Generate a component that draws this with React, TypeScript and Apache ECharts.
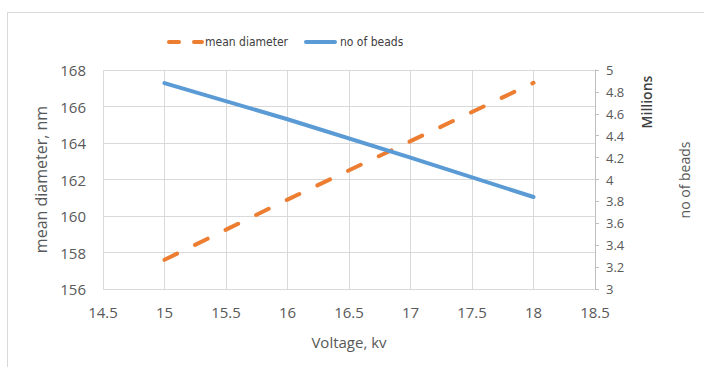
import React, { useEffect, useRef } from "react";
import * as echarts from "echarts";

// Voltage (kV) sweep
const voltage = [15, 16, 17, 18];
// Mean fibre diameter, nm
const meanDiameter = [157.6, 160.9, 164.1, 167.3];
// Number of beads, millions
const noOfBeads = [4.88, 4.55, 4.2, 3.84];

const FONT = "'Open Sans', 'Liberation Sans', sans-serif";
const NARROW = "'Liberation Sans Narrow', 'DejaVu Sans Condensed', 'Open Sans', sans-serif";
const TEXT = "#595959";
const ORANGE = "#ED7D31";
const BLUE = "#5B9BD5";
const GRID = "#d9d9d9";

// Legend keys: a two-dash stroke and a solid stroke
const DASH_ICON = "path://M2,0 h10 a2,2 0 0 1 0,4 h-10 a2,2 0 0 1 0,-4z M27,0 h8 a2,2 0 0 1 0,4 h-8 a2,2 0 0 1 0,-4z";
const SOLID_ICON = "path://M2,0 h29 a2,2 0 0 1 0,4 h-29 a2,2 0 0 1 0,-4z";

export default function App() {
  const ref = useRef<HTMLDivElement>(null);

  useEffect(() => {
    if (!ref.current) return;
    const chart = echarts.init(ref.current, undefined, { renderer: "svg" });
    chart.setOption({
      animation: false,
      backgroundColor: "#ffffff",
      textStyle: { fontFamily: FONT },
      legend: {
        top: 31,
        left: 162,
        itemWidth: 37,
        itemHeight: 4,
        itemGap: 16,
        textStyle: { color: "#404040", fontSize: 12, fontFamily: NARROW, padding: [0, 0, 0, -4] },
        data: [
          { name: "mean diameter", icon: DASH_ICON },
          { name: "no of beads", icon: SOLID_ICON, itemWidth: 33 },
        ],
      },
      grid: { left: 103, right: 109, top: 70, bottom: 78 },
      xAxis: {
        type: "value",
        min: 14.5,
        max: 18.5,
        interval: 0.5,
        name: "Voltage, kv",
        nameLocation: "middle",
        nameGap: 45,
        nameTextStyle: { color: TEXT, fontSize: 15, fontFamily: FONT },
        axisLine: { show: false },
        axisTick: { show: false },
        axisLabel: { color: TEXT, fontSize: 15, margin: 15, fontFamily: FONT },
        splitLine: { show: true, lineStyle: { color: GRID, width: 1 } },
      },
      yAxis: [
        {
          type: "value",
          min: 156,
          max: 168,
          interval: 2,
          name: "mean diameter, nm",
          nameLocation: "middle",
          nameRotate: 90,
          nameGap: 50,
          nameTextStyle: { color: TEXT, fontSize: 16, fontFamily: FONT },
          axisLine: { show: false },
          axisTick: { show: false },
          axisLabel: { color: TEXT, fontSize: 15, margin: 17, fontFamily: FONT },
          splitLine: { show: true, lineStyle: { color: GRID, width: 1 } },
        },
        {
          type: "value",
          position: "right",
          min: 3,
          max: 5,
          interval: 0.2,
          axisLine: { show: true, lineStyle: { color: "#bfbfbf" } },
          axisTick: { show: true, length: 4, lineStyle: { color: "#bfbfbf" } },
          axisLabel: { color: TEXT, fontSize: 13, margin: 11, fontFamily: FONT },
          splitLine: { show: false },
        },
      ],
      series: [
        {
          name: "mean diameter",
          type: "line",
          yAxisIndex: 0,
          symbol: "none",
          data: voltage.map((v, i) => [v, meanDiameter[i]]),
          lineStyle: {
            color: ORANGE,
            width: 4,
            type: [14, 20],
            cap: "round",
          },
          itemStyle: { color: ORANGE },
        },
        {
          name: "no of beads",
          type: "line",
          yAxisIndex: 1,
          symbol: "none",
          data: voltage.map((v, i) => [v, noOfBeads[i]]),
          lineStyle: { color: BLUE, width: 4, cap: "round" },
          itemStyle: { color: BLUE },
        },
      ],
      graphic: [
        {
          type: "line",
          shape: { x1: 7, y1: 12.5, x2: 704, y2: 12.5 },
          style: { stroke: "#d9d9d9", lineWidth: 1 },
        },
        {
          type: "line",
          shape: { x1: 7.5, y1: 12, x2: 7.5, y2: 367 },
          style: { stroke: "#d9d9d9", lineWidth: 1 },
        },
        {
          type: "text",
          x: 646,
          y: 102,
          rotation: Math.PI / 2,
          style: {
            text: "Millions",
            fill: "#404040",
            font: `600 14px ${FONT}`,
            align: "center",
            verticalAlign: "middle",
          },
        },
        {
          type: "text",
          x: 684,
          y: 180,
          rotation: Math.PI / 2,
          style: {
            text: "no of beads",
            fill: TEXT,
            font: `14px ${FONT}`,
            align: "center",
            verticalAlign: "middle",
          },
        },
      ],
    });
    return () => chart.dispose();
  }, []);

  return (
    <div
      ref={ref}
      style={{ position: "fixed", left: 0, top: 0, width: 704, height: 367 }}
    />
  );
}
